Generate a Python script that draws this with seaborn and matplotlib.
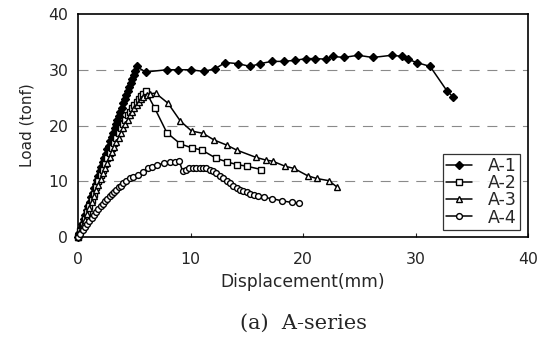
import matplotlib
matplotlib.use("Agg")
import matplotlib.pyplot as plt
import seaborn as sns

# ---- data ----
A1_x = [0.00, 0.13, 0.26, 0.39, 0.52, 0.65, 0.78, 0.91, 1.04, 1.17, 1.30, 1.43, 1.56,
        1.69, 1.82, 1.95, 2.08, 2.21, 2.34, 2.47, 2.60, 2.73, 2.86, 2.99, 3.12, 3.25,
        3.38, 3.51, 3.64, 3.77, 3.90, 4.03, 4.16, 4.29, 4.42, 4.55, 4.68, 4.81, 4.94,
        5.07, 5.20, 6.0, 7.9, 8.9, 10.0, 11.2, 12.2, 13.1, 14.2, 15.3, 16.2, 17.2,
        18.3, 19.3, 20.3, 21.1, 22.0, 22.7, 23.6, 24.9, 26.2, 27.9, 28.8, 29.3, 30.1,
        31.3, 32.8, 33.3]
A1_y = [0.0, 0.8, 1.6, 2.4, 3.2, 4.0, 4.8, 5.5, 6.3, 7.1, 7.9, 8.7, 9.5, 10.3, 11.0,
        11.8, 12.6, 13.4, 14.1, 14.9, 15.7, 16.4, 17.2, 18.0, 18.7, 19.5, 20.2, 21.0,
        21.7, 22.5, 23.2, 24.0, 24.7, 25.4, 26.2, 26.9, 27.6, 28.4, 29.1, 29.8, 30.6,
        29.6, 30.0, 30.0, 30.0, 29.7, 30.2, 31.3, 31.1, 30.6, 31.1, 31.5, 31.5, 31.7,
        32.0, 32.0, 31.9, 32.4, 32.2, 32.6, 32.2, 32.6, 32.4, 31.9, 31.3, 30.6, 26.2,
        25.2]

A2_x = [0, 0.2, 0.4, 0.6, 0.8, 1.0, 1.2, 1.4, 1.6, 1.8, 2.0, 2.2, 2.4, 2.6, 2.8, 3.0,
        3.2, 3.4, 3.6, 3.8, 4.0, 4.2, 4.4, 4.6, 4.8, 5.0, 5.2, 5.4, 5.6, 5.8, 6.0,
        6.8, 7.9, 9.1, 10.1, 11.0, 12.3, 13.2, 14.1, 15.0, 16.3]
A2_y = [0, 1.1, 2.2, 3.3, 4.5, 5.6, 6.7, 7.8, 8.9, 10.0, 11.1, 12.1, 13.1, 14.1, 15.1,
        16.0, 16.9, 17.8, 18.7, 19.5, 20.3, 21.0, 21.8, 22.5, 23.1, 23.7, 24.3, 24.8,
        25.3, 25.7, 26.2, 23.2, 18.7, 16.7, 16.0, 15.6, 14.1, 13.5, 13.0, 12.7, 12.1]

A3_x = [0, 0.2, 0.4, 0.6, 0.8, 1.0, 1.2, 1.4, 1.6, 1.8, 2.0, 2.2, 2.4, 2.6, 2.8, 3.0,
        3.2, 3.4, 3.6, 3.8, 4.0, 4.2, 4.4, 4.6, 4.8, 5.0, 5.2, 5.4, 5.6, 5.8, 6.1,
        6.4, 6.9, 8.0, 9.1, 10.1, 11.1, 12.1, 13.2, 14.1, 15.8, 16.7, 17.3, 18.4,
        19.2, 20.4, 21.2, 22.3, 23.0]
A3_y = [0, 1.0, 2.1, 3.1, 4.2, 5.2, 6.3, 7.3, 8.4, 9.4, 10.4, 11.4, 12.4, 13.3, 14.3,
        15.2, 16.1, 17.0, 17.8, 18.7, 19.5, 20.3, 21.0, 21.8, 22.5, 23.1, 23.7, 24.2,
        24.7, 25.1, 25.5, 25.7, 25.8, 24.0, 20.8, 19.0, 18.6, 17.4, 16.5, 15.6, 14.3,
        13.8, 13.6, 12.7, 12.3, 11.0, 10.5, 10.1, 9.0]

A4_x = [0, 0.2, 0.4, 0.6, 0.8, 1.0, 1.2, 1.4, 1.6, 1.8, 2.0, 2.2, 2.4, 2.6, 2.8, 3.0,
        3.2, 3.4, 3.6, 3.8, 4.0, 4.3, 4.6, 4.9, 5.3, 5.8, 6.2, 6.6, 7.0, 7.6, 8.2, 8.6,
        9.0, 9.3, 9.6, 9.9, 10.2, 10.5, 10.8, 11.1, 11.4, 11.7, 12.0, 12.3, 12.6, 12.9,
        13.2, 13.5, 13.8, 14.1, 14.4, 14.7, 15.0, 15.3, 15.6, 16.0, 16.5, 17.2, 18.1,
        19.0, 19.6]
A4_y = [0, 0.6, 1.2, 1.8, 2.3, 2.9, 3.4, 4.0, 4.5, 5.0, 5.5, 6.0, 6.4, 6.9, 7.3, 7.7,
        8.1, 8.5, 8.9, 9.2, 9.6, 10.1, 10.5, 10.8, 11.2, 11.6, 12.3, 12.6, 12.9, 13.2,
        13.4, 13.5, 13.6, 11.8, 12.1, 12.3, 12.4, 12.4, 12.4, 12.4, 12.3, 12.1, 11.8,
        11.4, 11.0, 10.5, 10.0, 9.6, 9.2, 8.8, 8.5, 8.2, 8.0, 7.8, 7.6, 7.3, 7.1, 6.9,
        6.5, 6.2, 6.1]

x_ticks = [0, 10, 20, 30, 40]
y_ticks = [0, 10, 20, 30, 40]
x_label = "Displacement(mm)"
y_label = "Load (tonf)"
caption = "(a)  A\u2010series"

sns.set_style("white")
plt.rcParams["font.family"] = ["DejaVu Sans"]

fig = plt.figure(figsize=(5.38, 3.47), dpi=100)
ax = fig.add_axes([78 / 538, 1 - 237 / 347, 450 / 538, 223 / 347])

series = [
    (A1_x, A1_y, "A-1", "D", 4.3, "black"),
    (A2_x, A2_y, "A-2", "s", 4.6, "white"),
    (A3_x, A3_y, "A-3", "^", 5.0, "white"),
    (A4_x, A4_y, "A-4", "o", 4.2, "white"),
]
for xs, ys, name, mk, ms, fc in series:
    sns.lineplot(x=xs, y=ys, sort=False, estimator=None, ax=ax, color="black",
                 linewidth=1.1, marker=mk, markersize=ms, markerfacecolor=fc,
                 markeredgecolor="black", markeredgewidth=1.0, label=name,
                 clip_on=False, zorder=3)

ax.set_xlim(0, 40)
ax.set_ylim(0, 40)
ax.set_xticks(x_ticks)
ax.set_yticks(y_ticks)
ax.set_xticklabels([str(v) for v in x_ticks], fontsize=11.3)
ax.set_yticklabels([str(v) for v in y_ticks], fontsize=11.3)
ax.tick_params(axis="x", direction="in", length=3, width=0.8, pad=11, bottom=True)
ax.tick_params(axis="y", length=0, pad=7)

for y in [10, 20, 30]:
    ax.axhline(y, color="#8a8a8a", linewidth=0.8, linestyle=(0, (9, 7)), zorder=1)

for sp in ax.spines.values():
    sp.set_visible(True)
    sp.set_color("black")
    sp.set_linewidth(1.2)

ax.set_xlabel(x_label, fontsize=12.3, labelpad=4)
ax.set_ylabel(y_label, fontsize=11, labelpad=10)

leg = ax.legend(loc="lower right", bbox_to_anchor=((520 - 78) / 450, 7 / 223),
                frameon=True, fancybox=False, edgecolor="black", fontsize=12.5,
                handlelength=1.5, handletextpad=0.9, borderpad=0.2,
                labelspacing=-0.05, borderaxespad=0)
leg.get_frame().set_linewidth(0.9)

fig.text(303 / 538, 1 - 323 / 347, caption, ha="center", va="center",
         fontsize=15, family=["DejaVu Serif"])

fig.savefig("out.png", dpi=100)
